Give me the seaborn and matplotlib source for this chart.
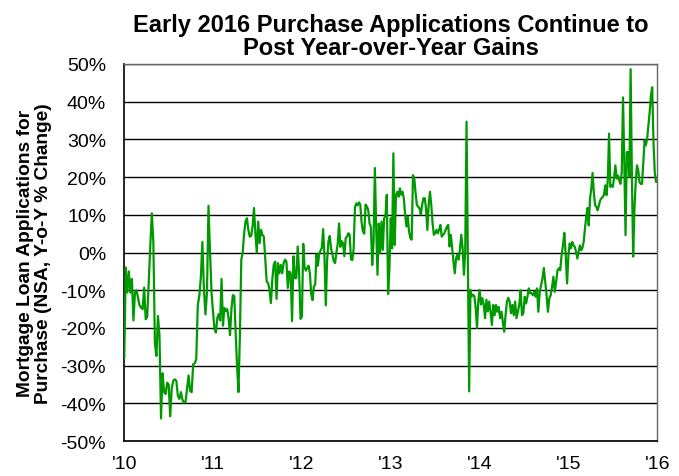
import numpy as np
import pandas as pd
import seaborn as sns
import matplotlib
matplotlib.use('Agg')
import matplotlib.pyplot as plt
from matplotlib.ticker import FuncFormatter

# Weekly purchase applications, % change y-o-y (NSA), one list per year
yoy_2010 = [-28, -4, -10.6, -5, -10.6, -7, -18, -10.6, -10, -12, -14, -14.6, -15, -9.3,
            -17.7, -17, -7.5, 1.8, 10.4, 2.7, -24, -27.4, -16.8, -22, -44, -32, -37, -37.5,
            -34.5, -35, -43.4, -36, -34, -33.6, -34, -38, -38.8, -37, -39, -39.8, -39.6, -36,
            -32.6, -36.7, -37, -29.6, -29.4, -28.3, -14, -11.5, -6.6, 2.8, -9.6, -16.4, -10.6,
            12.4, 0, -10.7]
yoy_2011 = [-16, -20.3, -21.2, -17.3, -16.3, -18, -7, -19.4, -14.7, -15.5, -15, -17.5, -21.9,
            -15, -11.3, -11.5, -21.3, -30, -37, -22, -1.9, 0, 5.1, 8.2, 9.1, 6, 4.2, 4.4, 6.9,
            11.8, 5, 0, 8.2, 2.5, 6, 4.7, 4.2, -1.9, -7.7, -8.1, -9.9, -13.4, -7.1, -3.3, -2.4,
            -12.3, -2.8, -5.5, -3.3, -5.5, -2.8, -1.9, -2.4, -9.4, -5, -5.5, -18.2, -1, -6.8,
            -6.8, 1.6, -5.5, -17.6]
yoy_2012 = [-17, 2.3, -4, -4.8, -4, -3.5, -5.5, -11, -12.6, -9, -8.5, -0.5, -3.5, -0.5, 0.5,
            1.2, 6.2, -1, -14, -2, 3, 4.4, 1, -0.5, -2.3, -2.8, 0, 2.3, 7.7, 1.5, 3, 2.5, -1,
            3.8, 4.2, 5.1, 4.7, -1.8, -2, 1, 12, 13, 12.5, 13.3, 12.7, 8, 5.6, 5, 12.7, 12.2,
            11.3, 7.7, 6.8, -3.3, 2.5, 22.4, 6.8, -5.9, 7.7, -0.2, 8.2, 0.7, 9.1, 9.6, 15.3,
            -11, -4]
yoy_2013 = [9.1, 1.1, 26.3, 2, 15.3, 16.1, 14.8, 17, 15.3, 16.1, 14.4, 10, 6.9, 9.5, 5.6, 3.8,
            3.4, 20.5, 19.6, 15.7, 12.6, 12.2, 11.7, 10.1, 12.6, 14.4, 14.4, 11.7, 6, 12.6,
            16.1, 12.6, 7.8, 4.7, 5.1, 6, 5.1, 6, 7.3, 4.2, 4.7, 5.1, 6, 6.9, 7.3, 1.6, 4.7,
            1.1, -2.4, -5.5, -1.5, -0.6, -1.9, 1.1, 4.7, 1.1, -5.9, 0.3, 34.7, -0.6, -36.8,
            -9.9, -11.6, -11.2, -11.6, -14.7, -20, -13]
yoy_2014 = [-9.9, -13.8, -12.1, -13.8, -17.4, -12.5, -15.6, -13, -15.7, -19.2, -13.9, -16.6,
            -13.9, -15.7, -14.4, -17.4, -15.7, -18.3, -21, -16.6, -13, -12, -13, -16.1, -13.9,
            -16.6, -13, -17.4, -15.7, -13.9, -10, -16.6, -16.1, -11.7, -13.5, -11.7, -9.5,
            -10.8, -10.8, -11.3, -10.4, -11.7, -9.5, -15.7, -10.4, -8.6, -6.9, -4.1, -7.8,
            -11.3, -15.7, -12.2, -11.3, -9.1, -6.4, -10.4, -7.8, -4.7, -4.2, -4.7, -0.7, 1.9,
            5.2, -0.7, -8.2]
yoy_2015 = [-0.7, 2.4, 1.1, 2.8, 1.9, 1.5, 0.2, -1.6, 0.2, 1.9, 0.6, 1.2, 2.8, 6.3, 9.4, 11.8,
            7.2, 14.3, 16.9, 21.1, 16, 12.5, 12.1, 11.2, 12.5, 13.8, 14.4, 14.7, 15.3, 17.8,
            15.2, 19.1, 31.5, 17.4, 17.8, 17.4, 20, 23.1, 19.6, 20.4, 19.1, 18.2, 21.3, 41.1,
            24, 4.6, 26.6, 26.6, 20, 48.6, 20.4, -1.1, 11.6, 18.7, 23.1, 21.8, 18.7, 18.2,
            18.2, 24, 29.7, 28.4, 30.1, 33.7, 37.2, 41.6, 43.8, 29.3, 21.3, 18.7]

years = [2010, 2011, 2012, 2013, 2014, 2015]
series_by_year = [yoy_2010, yoy_2011, yoy_2012, yoy_2013, yoy_2014, yoy_2015]
tick_years = [2010, 2011, 2012, 2013, 2014, 2015, 2016]
tick_labels = ["'10", "'11", "'12", "'13", "'14", "'15", "'16"]
y_ticks = list(range(-50, 51, 10))

# weekly observations spread evenly across each year
frames = []
for yr, vals in zip(years, series_by_year):
    n = len(vals)
    frames.append(pd.DataFrame({'date': yr + np.arange(n) / n, 'yoy': vals}))
df = pd.concat(frames, ignore_index=True)

sns.set_style('white')
plt.rcParams['font.family'] = ['Liberation Sans', 'DejaVu Sans']
plt.rcParams['text.color'] = 'black'
plt.rcParams['axes.labelcolor'] = 'black'
plt.rcParams['xtick.color'] = 'black'
plt.rcParams['ytick.color'] = 'black'

fig, ax = plt.subplots(figsize=(6.79, 4.77), dpi=100)
fig.subplots_adjust(left=0.183, right=0.968, top=0.864, bottom=0.073)

for t in y_ticks:
    ax.axhline(t, color='black', linewidth=1.0, zorder=1)

sns.lineplot(data=df, x='date', y='yoy', color='#009A00', linewidth=1.6,
             estimator=None, ax=ax, zorder=3)

ax.set_xlim(2010, 2016)
ax.set_ylim(-50, 50)
ax.set_xticks(tick_years)
ax.set_xticklabels(tick_labels)
ax.set_yticks(y_ticks)
ax.yaxis.set_major_formatter(FuncFormatter(lambda v, p: f'{v:.0f}%'))
ax.tick_params(axis='y', length=5, width=1, colors='black', labelsize=14, pad=8, direction='out')
ax.tick_params(axis='x', length=0, colors='black', labelsize=14, pad=10)

for side in ['left', 'bottom']:
    ax.spines[side].set_color('black')
    ax.spines[side].set_linewidth(1.2)
for side in ['right', 'top']:
    ax.spines[side].set_color('#666666')
    ax.spines[side].set_linewidth(1.0)

ax.set_xlabel('')
ax.set_ylabel('Mortgage Loan Applications for\nPurchase (NSA, Y-o-Y % Change)',
              fontsize=13.8, fontweight='bold', labelpad=6, linespacing=1.05, color='black')
ax.set_title('Early 2016 Purchase Applications Continue to\nPost Year-over-Year Gains',
             fontsize=17, fontweight='bold', pad=7, linespacing=1.0, color='black')

fig.savefig('out.png', dpi=100)
